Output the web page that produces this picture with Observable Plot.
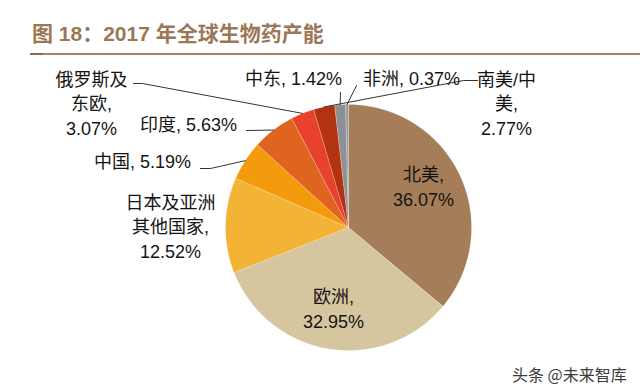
<!DOCTYPE html>
<html><head><meta charset="utf-8">
<script src="https://cdn.jsdelivr.net/npm/d3@7"></script>
<script src="https://cdn.jsdelivr.net/npm/@observablehq/plot@0.6"></script>
<style>
html,body{margin:0;padding:0;background:#fff;}
body{width:640px;height:392px;overflow:hidden;position:relative;font-family:"Liberation Sans","Noto Sans CJK SC",sans-serif;}
#title{position:absolute;left:32px;top:21px;font-size:21px;font-weight:bold;color:#9B7756;white-space:nowrap;line-height:26px;}
#rule{position:absolute;left:30px;right:0;top:53px;height:2px;background:#A3826A;}
#rule:before{content:"";position:absolute;left:0;top:0;width:13px;height:2px;background:#8A6A50;}
#chart{position:absolute;left:0;top:60px;}
#wm{position:absolute;left:512px;top:362px;font-size:16px;color:#3c3c3c;font-family:"Noto Sans CJK SC",sans-serif;text-shadow:0 0 2px #fff;}
</style></head>
<body>
<div id="title">图 18：2017 年全球生物药产能</div>
<div id="rule"></div>
<div id="chart"></div>
<div id="wm">头条 @未来智库</div>
<script>
// ---- data ----
const regions = ["北美","欧洲","日本及亚洲其他国家","中国","印度","俄罗斯及东欧","南美/中美","中东","非洲"];
const shares = [36.07, 32.95, 12.52, 5.19, 5.63, 3.07, 2.77, 1.42, 0.37];
const colors = ["#A57D58","#D6C69F","#F3B335","#F49A0D","#DE6420","#E8412C","#B3320F","#8F9096","#9C9CA0"];
// how each region name is broken over label lines, and whether value goes on its own line
const nameLines = [["北美"],["欧洲"],["日本及亚洲","其他国家"],["中国"],["印度"],["俄罗斯及","东欧"],["南美/中","美"],["中东"],["非洲"]];
const valueOwnLine = [true,true,true,false,false,true,true,false,false];

// ---- layout (page pixels) ----
const W = 640, H = 332, TOP = 60;
const CX = 348, CY = 227, R = 123;
const labelPos = [[423,185],[333,307],[170,225],[142,160],[188,123],[91,102],[506,102],[293,77],[411,77]];
const leaderPts = [null,null,null,[[200,168],[210,168]],[[246,130]],[[133,83],[142,83]],[[477,80],[463,80]],[[340,92]],[[356,85]]];

const toX = px => (px - CX) / R;
const toY = py => (CY - py) / R;

const pie = d3.pie().sort(null).value(d => d)(shares);

// slice polygons
const slicePts = [];
pie.forEach((a, i) => {
  const n = Math.max(2, Math.ceil((a.endAngle - a.startAngle) / 0.004));
  slicePts.push({name: regions[i], col: colors[i], x: 0, y: 0});
  for (let k = 0; k <= n; k++) {
    const t = a.startAngle + (a.endAngle - a.startAngle) * k / n;
    slicePts.push({name: regions[i], col: colors[i], x: Math.sin(t), y: Math.cos(t)});
  }
  slicePts.push({name: regions[i], col: colors[i], x: 0, y: 0});
});

// labels
const labels = regions.map((r, i) => {
  const parts = nameLines[i].slice();
  parts[parts.length - 1] += ",";
  const v = shares[i].toFixed(2) + "%";
  let txt;
  if (valueOwnLine[i]) txt = parts.concat([v]).join("\n");
  else txt = parts.join("\n") + " " + v;
  return {text: txt, x: toX(labelPos[i][0]), y: toY(labelPos[i][1])};
});

// leader lines
const leaders = [];
pie.forEach((a, i) => {
  if (!leaderPts[i]) return;
  const mid = (a.startAngle + a.endAngle) / 2;
  leaderPts[i].forEach(p => leaders.push({id: i, x: toX(p[0]), y: toY(p[1])}));
  leaders.push({id: i, x: Math.sin(mid), y: Math.cos(mid)});
});

const plot = Plot.plot({
  width: W, height: H,
  margin: 0,
  x: {domain: [toX(0), toX(W)], axis: null},
  y: {domain: [toY(TOP + H), toY(TOP)], axis: null},
  color: {type: "identity"},
  style: {fontFamily: "Liberation Sans, Noto Sans CJK SC, sans-serif", fontSize: "18px", background: "transparent", overflow: "visible"},
  marks: [
    Plot.line(slicePts, {x: "x", y: "y", z: "name", fill: "col", stroke: "#ffffff", strokeWidth: 0.5, strokeOpacity: 0.4, curve: "linear"}),
    Plot.line(leaders, {x: "x", y: "y", z: "id", stroke: "#333333", strokeWidth: 1, curve: "linear"}),
    Plot.text(labels, {x: "x", y: "y", text: "text", fontSize: 18, lineHeight: 1.36, fill: "#141414", textAnchor: "middle", lineAnchor: "middle"})
  ]
});
document.getElementById("chart").appendChild(plot);
</script>
</body></html>
